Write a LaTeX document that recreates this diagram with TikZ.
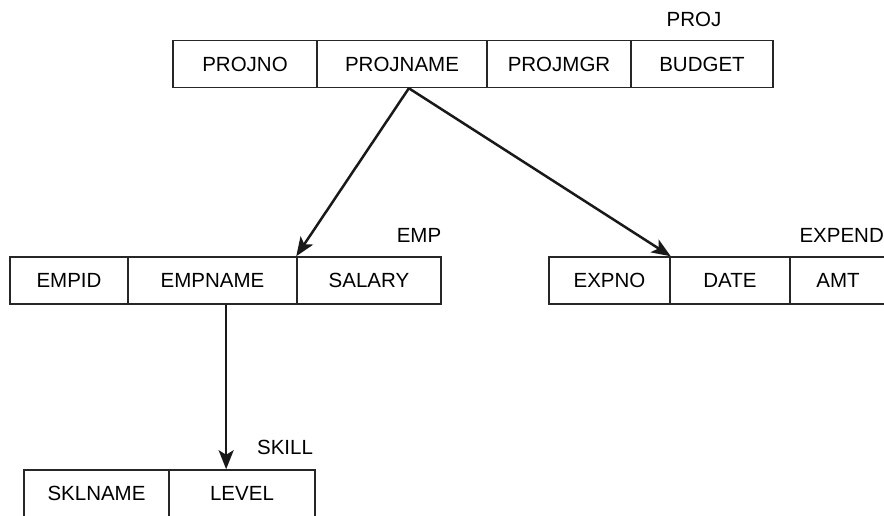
\documentclass[tikz,border=0pt]{standalone}
\usepackage{fontspec}
\setmainfont{Liberation Sans}
\usetikzlibrary{arrows.meta,calc}
\begin{document}
\begin{tikzpicture}[x=1pt,y=-1pt,
  cell/.style={draw=black!85, line width=1.5pt, minimum height=47pt, inner sep=0pt, font=\fontsize{20.5}{23}\selectfont},
  lbl/.style={inner sep=0pt, font=\fontsize{20.5}{23}\selectfont},
  link/.style={line width=2.5pt, draw=black!90, -{Stealth[length=19pt,width=15pt,inset=4.5pt]}}]
\useasboundingbox (0,0) rectangle (884,515);
% PROJ
\node[cell, minimum width=144pt] (projno)   at (245,64)  {PROJNO};
\node[cell, minimum width=170pt] (projname) at (402,64)  {PROJNAME};
\node[cell, minimum width=144pt] (projmgr)  at (559,64)  {PROJMGR};
\node[cell, minimum width=142pt] (budget)   at (702,64)  {BUDGET};
\node[lbl] (projlbl) at (694,19) {PROJ};
% EMP
\node[cell, minimum width=118pt] (empid)   at (69,280.5)    {EMPID};
\node[cell, minimum width=169pt] (empname) at (212.5,280.5) {EMPNAME};
\node[cell, minimum width=144pt] (salary)  at (369,280.5)   {SALARY};
\node[lbl] (emplbl) at (419,235) {EMP};
% EXPEND
\node[cell, minimum width=121pt] (expno) at (609.5,280.5) {EXPNO};
\node[cell, minimum width=120pt] (date)  at (730,280.5)   {DATE};
\node[cell, minimum width=96pt]  (amt)   at (838,280.5)   {AMT};
\node[lbl, anchor=east] (explbl) at (884,235) {EXPEND};
% SKILL
\node[cell, minimum width=145pt] (sklname) at (96.5,493.5) {SKLNAME};
\node[cell, minimum width=146pt] (level)   at (242,493.5)  {LEVEL};
\node[lbl] (skilllbl) at (285,447) {SKILL};
% connectors
\coordinate (src) at ($(projname.south west)!0.54!(projname.south east)$);
\coordinate (esrc) at ($(empname.south west)!0.58!(empname.south east)$);
\draw[link] (src) -- (salary.north west);
\draw[link] (src) -- (expno.north east);
\draw[link] (esrc) -- (esrc |- level.north);
\end{tikzpicture}
\end{document}
